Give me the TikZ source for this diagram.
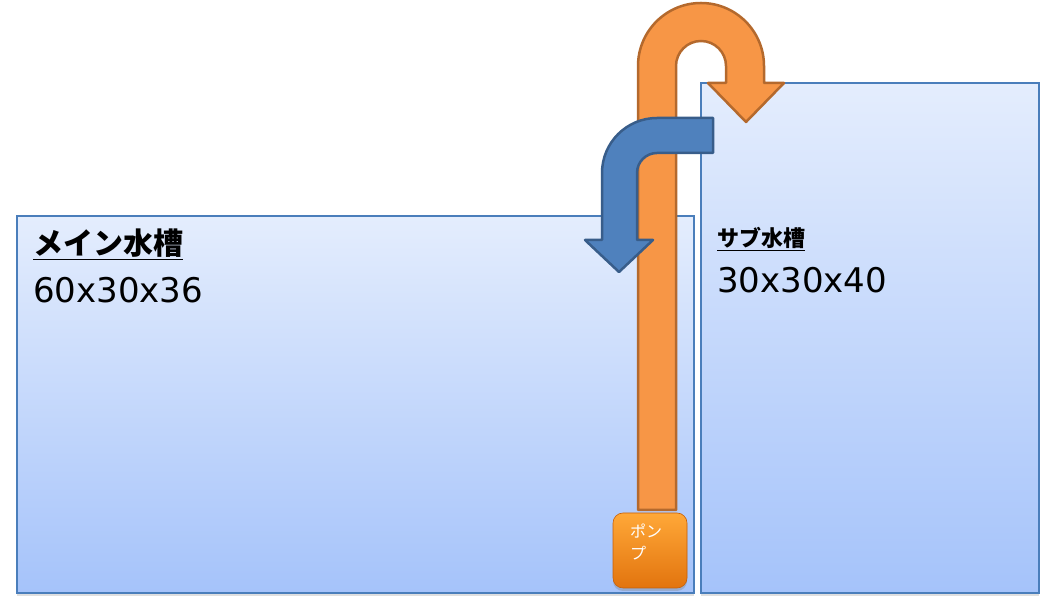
\documentclass[tikz,border=0pt]{standalone}
\usepackage{fontspec}
\newfontfamily\jpfont{Noto Sans CJK JP}
\newfontfamily\numfont{DejaVu Sans}
\usetikzlibrary{shadows}

\definecolor{tankline}{HTML}{4A7EBB}
\definecolor{tanktop}{HTML}{E4EDFD}
\definecolor{tankbottom}{HTML}{A5C3FA}
\definecolor{pipefill}{HTML}{F79646}
\definecolor{pipeline}{HTML}{B4692D}
\definecolor{returnfill}{HTML}{4F81BD}
\definecolor{returnline}{HTML}{385D8A}
\definecolor{pumptop}{HTML}{FFA838}
\definecolor{pumpbottom}{HTML}{E2740E}
\definecolor{pumpline}{HTML}{C5600A}

\tikzset{
  tank/.style={draw=tankline, line width=1.2pt, top color=tanktop, bottom color=tankbottom,
    drop shadow={opacity=0.25, shadow xshift=0pt, shadow yshift=-3pt}, inner sep=0pt},
  pipe/.style={draw=pipeline, fill=pipefill, line width=2.5pt, line join=round},
  returnpipe/.style={draw=returnline, fill=returnfill, line width=2.5pt, line join=round},
  pumpbox/.style={draw=pumpline, line width=0.6pt, rounded corners=10pt, top color=pumptop,
    bottom color=pumpbottom, drop shadow={opacity=0.35, shadow xshift=0pt, shadow yshift=-3pt},
    minimum width=74pt, minimum height=75pt},
  pumplabel/.style={anchor=north west, inner sep=0pt, align=left, text=white,
    font=\jpfont\fontsize{16}{22}\selectfont},
  title/.style={anchor=base west, inner sep=0pt},
  size/.style={anchor=base west, inner sep=0pt, font=\numfont\fontsize{34}{40}\selectfont}
}

\begin{document}
\begin{tikzpicture}[x=1pt, y=1pt]
  \useasboundingbox (0,0) rectangle (1047,604);

  \node[tank, minimum width=677pt, minimum height=377pt] (main) at (355.5,199.5) {};
  \node[tank, minimum width=338pt, minimum height=510pt] (sub) at (870,266) {};

  \draw[pipe] (638,94) -- (638,538) arc[start angle=180, end angle=0, radius=63]
    -- (764,521) -- (784,521) -- (746,482) -- (708,521) -- (726,521) -- (726,538)
    arc[start angle=0, end angle=180, radius=25] -- (676,94) -- cycle;

  \node[pumpbox] (pump) at (650,53.5) {};
  \node[pumplabel] (pumptext) at (630,80) {ポン\\プ};

  \draw[returnpipe] (713,486) -- (657,486) arc[start angle=90, end angle=180, radius=55]
    -- (602,364) -- (585,364) -- (619,332) -- (653,364) -- (637,364) -- (637,431)
    arc[start angle=180, end angle=90, radius=20] -- (713,451) -- cycle;

  \node[title, font=\jpfont\bfseries\fontsize{30}{34}\selectfont] (maintitle) at (33,349) {\underline{メイン水槽}};
  \node[size] (mainsize) at (33,301) {60x30x36};
  \node[title, font=\jpfont\bfseries\fontsize{22}{26}\selectfont] (subtitle) at (717,357) {\underline{サブ水槽}};
  \node[size] (subsize) at (717,311) {30x30x40};
\end{tikzpicture}
\end{document}
